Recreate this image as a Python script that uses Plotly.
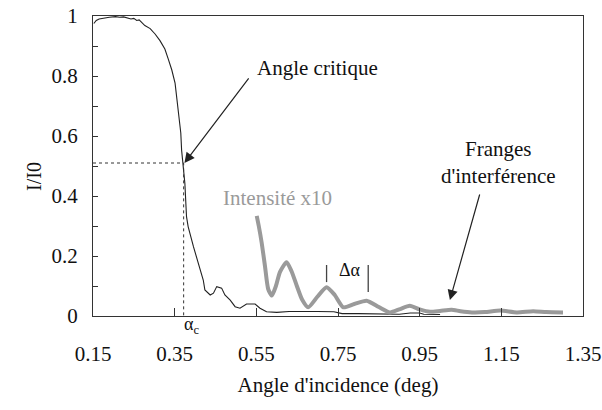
import plotly.graph_objects as go

# Reflectivity curve (I/I0) - black
angle_main = [0.152, 0.158, 0.165, 0.175, 0.19, 0.205, 0.215, 0.225, 0.235, 0.243,
              0.250, 0.257, 0.263, 0.269, 0.277, 0.290, 0.302, 0.314, 0.326, 0.334,
              0.343, 0.351, 0.356, 0.361, 0.365, 0.367, 0.370, 0.375, 0.379, 0.383,
              0.396, 0.412, 0.420, 0.424, 0.437, 0.445, 0.453, 0.465, 0.473, 0.486,
              0.498, 0.510, 0.526, 0.547, 0.559, 0.575, 0.60, 0.63, 0.66, 0.70,
              0.74, 0.76, 0.80, 0.85, 0.90, 0.927, 0.95, 0.96, 1.0]
intensity_main = [0.975, 0.985, 0.990, 0.993, 0.996, 0.998, 0.996, 0.997, 0.993, 0.990,
                  0.992, 0.985, 0.987, 0.978, 0.968, 0.958, 0.940, 0.918, 0.890, 0.858,
                  0.820, 0.776, 0.720, 0.664, 0.610, 0.553, 0.509, 0.442, 0.331, 0.298,
                  0.231, 0.153, 0.120, 0.087, 0.070, 0.076, 0.098, 0.093, 0.070, 0.053,
                  0.031, 0.026, 0.040, 0.040, 0.026, 0.014, 0.012, 0.015, 0.016, 0.015,
                  0.014, 0.008, 0.008, 0.007, 0.006, 0.010, 0.010, 0.006, 0.005]

# Intensity x10 (grey) - interference fringes
angle_x10 = [0.551, 0.556, 0.563, 0.571, 0.579, 0.588, 0.598, 0.608, 0.624, 0.636,
             0.649, 0.662, 0.677, 0.700, 0.722, 0.742, 0.763, 0.790, 0.820, 0.850,
             0.877, 0.900, 0.926, 0.950, 0.975, 1.00, 1.028, 1.05, 1.078, 1.11,
             1.147, 1.188, 1.228, 1.26, 1.301]
intensity_x10 = [0.334, 0.300, 0.245, 0.168, 0.090, 0.068, 0.100, 0.147, 0.179, 0.150,
                 0.101, 0.055, 0.029, 0.065, 0.096, 0.070, 0.029, 0.040, 0.051, 0.030,
                 0.012, 0.022, 0.034, 0.022, 0.014, 0.017, 0.021, 0.016, 0.012, 0.013,
                 0.018, 0.012, 0.016, 0.013, 0.012]

critical_angle = 0.372
critical_intensity = 0.51
delta_alpha_marks = [0.722, 0.824]
delta_alpha_bottoms = [0.113, 0.08]
delta_alpha_top = 0.17

x_ticks = [0.15, 0.35, 0.55, 0.75, 0.95, 1.15, 1.35]
x_tick_labels = ["0.15", "0.35", "0.55", "0.75", "0.95", "1.15", "1.35"]
y_ticks = [0, 0.2, 0.4, 0.6, 0.8, 1]
y_tick_labels = ["0", "0.2", "0.4", "0.6", "0.8", "1"]

FONT = "Liberation Serif, Times New Roman, serif"

fig = go.Figure()
fig.add_trace(go.Scatter(x=angle_main, y=intensity_main, mode="lines",
                         line=dict(color="#222222", width=1.1), showlegend=False))
fig.add_trace(go.Scatter(x=angle_x10, y=intensity_x10, mode="lines",
                         line=dict(color="#9a9a9a", width=4, shape="spline", smoothing=0.6),
                         showlegend=False))
# dotted guide lines at critical angle
fig.add_trace(go.Scatter(x=[0.15, critical_angle, critical_angle],
                         y=[critical_intensity, critical_intensity, 0],
                         mode="lines", line=dict(color="#333333", width=1, dash="dot"),
                         showlegend=False))

for xm, yb in zip(delta_alpha_marks, delta_alpha_bottoms):
    fig.add_shape(type="line", x0=xm, x1=xm, y0=yb, y1=delta_alpha_top,
                  line=dict(color="#444444", width=1.3))

ann = []
# arrows
ann.append(dict(x=critical_angle + 0.002, y=critical_intensity, ax=0.534, ay=0.797,
                xref="x", yref="y", axref="x", ayref="y", text="", showarrow=True,
                arrowhead=2, arrowsize=1.7, arrowwidth=1.2, arrowcolor="#222222"))
ann.append(dict(x=1.024, y=0.053, ax=1.098, ay=0.41,
                xref="x", yref="y", axref="x", ayref="y", text="", showarrow=True,
                arrowhead=2, arrowsize=1.7, arrowwidth=1.2, arrowcolor="#222222"))
# texts
ann.append(dict(x=0.701, y=0.827, xref="x", yref="y", text="Angle critique",
                showarrow=False, font=dict(family=FONT, size=21, color="#111111")))
ann.append(dict(x=1.142, y=0.512, xref="x", yref="y", text="Franges<br>d'interférence",
                showarrow=False, font=dict(family=FONT, size=21, color="#111111")))
ann.append(dict(x=0.603, y=0.393, xref="x", yref="y", text="Intensité x10",
                showarrow=False, font=dict(family=FONT, size=21, color="#9a9a9a")))
ann.append(dict(x=0.779, y=0.153, xref="x", yref="y", text="Δα",
                showarrow=False, font=dict(family=FONT, size=18, color="#111111")))
ann.append(dict(x=0.39, y=-0.075, xref="x", yref="paper", text="α<sub>c</sub>",
                showarrow=False, font=dict(family=FONT, size=18, color="#111111")))
ann.append(dict(x=(21 - 93) / 490.0, y=(316 - 177) / 300.0, xref="paper", yref="paper",
                text="I/I0", textangle=-90, showarrow=False,
                font=dict(family=FONT, size=20, color="#111111")))

fig.update_layout(
    width=602, height=410,
    margin=dict(l=93, r=19, t=16, b=94, autoexpand=False),
    paper_bgcolor="white", plot_bgcolor="white",
    font=dict(family=FONT, size=21, color="#111111"),
    annotations=ann,
    xaxis=dict(range=[0.15, 1.35], tickvals=x_ticks, ticktext=x_tick_labels,
               ticks="inside", ticklen=8, tickcolor="#333333", tickwidth=1,
               showline=True, linecolor="#333333", linewidth=1, mirror=True,
               showgrid=False, zeroline=False, ticklabelstandoff=19, automargin=False,
               ticklabeloverflow="allow",
               title=dict(text="Angle d'incidence (deg)", standoff=12,
                          font=dict(family=FONT, size=21))),
    yaxis=dict(range=[0, 1], tickvals=y_ticks, ticktext=y_tick_labels,
               ticks="inside", ticklen=5, tickcolor="#333333", tickwidth=1,
               minor=dict(dtick=0.1, ticks="inside", ticklen=5, tickcolor="#333333"),
               showline=True, linecolor="#333333", linewidth=1, mirror=True,
               showgrid=False, zeroline=False, ticklabelstandoff=10, automargin=False,
               ticklabeloverflow="allow"),
)

fig.write_html("out.html", config={"displayModeBar": False},
               post_script="document.body.style.margin='0';")
